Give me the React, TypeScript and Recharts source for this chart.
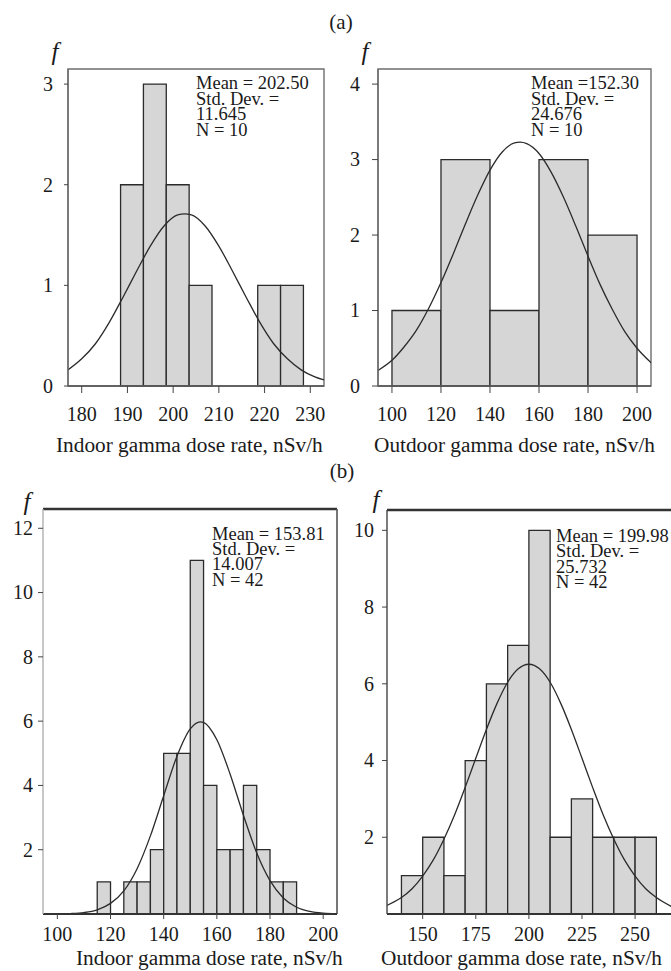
import { ComposedChart, Line, XAxis, YAxis, ReferenceArea, ReferenceLine } from 'recharts';

const FONT = '"Liberation Serif", "Times New Roman", serif';
const BAR_FILL = '#d6d6d6';
const INK = '#2b2b2b';

// (a) indoor, N = 10
const indoorABinStart = [188.5, 193.5, 198.5, 203.5, 218.5, 223.5];
const indoorACounts = [2, 3, 2, 1, 1, 1];
const indoorACurveX = [177, 180, 183, 186, 189, 192, 195, 198, 201, 202.5, 204, 207, 210, 213, 216, 219, 222, 225, 228, 231, 233];
const indoorACurveY = [0.16, 0.27, 0.42, 0.63, 0.88, 1.14, 1.39, 1.59, 1.7, 1.71, 1.7, 1.59, 1.39, 1.14, 0.88, 0.63, 0.42, 0.27, 0.16, 0.09, 0.06];

// (a) outdoor, N = 10
const outdoorABinStart = [100, 120, 140, 160, 180];
const outdoorACounts = [1, 3, 1, 3, 2];
const outdoorACurveX = [94, 100, 105, 110, 115, 120, 125, 130, 135, 140, 145, 150, 152.3, 155, 160, 165, 170, 175, 180, 185, 190, 195, 200, 206];
const outdoorACurveY = [0.2, 0.34, 0.52, 0.74, 1.03, 1.37, 1.75, 2.15, 2.53, 2.86, 3.1, 3.22, 3.23, 3.21, 3.08, 2.83, 2.5, 2.12, 1.72, 1.34, 1.01, 0.72, 0.5, 0.3];

// (b) indoor, N = 42
const indoorBBinStart = [115, 125, 130, 135, 140, 145, 150, 155, 160, 165, 170, 175, 180, 185];
const indoorBCounts = [1, 1, 1, 2, 5, 5, 11, 4, 2, 2, 4, 2, 1, 1];
const indoorBCurveX = [94, 100, 105, 110, 115, 120, 125, 130, 135, 140, 145, 150, 153.8, 155, 160, 165, 170, 175, 180, 185, 190, 195, 200, 205];
const indoorBCurveY = [0, 0.004, 0.014, 0.045, 0.13, 0.33, 0.72, 1.41, 2.43, 3.68, 4.91, 5.76, 5.98, 5.96, 5.42, 4.35, 3.07, 1.9, 1.04, 0.5, 0.21, 0.08, 0.026, 0.008];

// (b) outdoor, N = 42
const outdoorBBinStart = [140, 150, 160, 170, 180, 190, 200, 210, 220, 230, 240, 250];
const outdoorBCounts = [1, 2, 1, 4, 6, 7, 10, 2, 3, 2, 2, 2];
const outdoorBCurveX = [133, 140, 145, 150, 155, 160, 165, 170, 175, 180, 185, 190, 195, 200, 205, 210, 215, 220, 225, 230, 235, 240, 245, 250, 255, 260, 267];
const outdoorBCurveY = [0.22, 0.43, 0.66, 0.99, 1.41, 1.95, 2.58, 3.3, 4.06, 4.81, 5.49, 6.04, 6.39, 6.51, 6.39, 6.04, 5.49, 4.81, 4.06, 3.3, 2.58, 1.95, 1.41, 0.99, 0.66, 0.43, 0.2];

const stats = [
  { x: 196, y: 89, step: 15.6, lines: ['Mean = 202.50', 'Std. Dev. =', '11.645', 'N = 10'] },
  { x: 531, y: 89, step: 15.6, lines: ['Mean =152.30', 'Std. Dev. =', '24.676', 'N = 10'] },
  { x: 212, y: 539.5, step: 15.4, lines: ['Mean = 153.81', 'Std. Dev. =', '14.007', 'N = 42'] },
  { x: 556, y: 542, step: 15.4, lines: ['Mean = 199.98', 'Std. Dev. =', '25.732', 'N = 42'] },
];

const Y_AXIS_W = 40;
const X_AXIS_H = 50;

const XTick = (p: any) => (
  <text x={p.x} y={p.y} dy="0.71em" textAnchor="middle" fontFamily={FONT} fontSize={20} fill="#1a1a1a">
    {p.payload.value}
  </text>
);

const YTick = (p: any) => (
  <text x={p.x} y={p.y} dy="0.34em" textAnchor="end" fontFamily={FONT} fontSize={20} fill="#1a1a1a">
    {p.payload.value}
  </text>
);

const Panel = (props: any) => {
  const { box, plot, xDomain, yDomain, xTicks, yTicks, binStart, counts, binWidth, curveX, curveY, xTick, yTick, frame } = props;
  const margin = {
    left: plot.left - box.left - Y_AXIS_W,
    top: plot.top - box.top,
    right: box.left + box.width - plot.right,
    bottom: box.top + box.height - plot.bottom - X_AXIS_H,
  };
  const curve = curveX.map((x: number, i: number) => ({ x, y: curveY[i] }));

  return (
    <div style={{ position: 'absolute', left: box.left, top: box.top }}>
      <ComposedChart width={box.width} height={box.height} data={curve} margin={margin}>
        <XAxis
          type="number"
          dataKey="x"
          domain={xDomain}
          ticks={xTicks}
          interval={0}
          allowDataOverflow
          height={X_AXIS_H}
          tickSize={xTick.size}
          tickMargin={xTick.margin}
          tick={<XTick />}
          axisLine={{ stroke: frame.bottom, strokeWidth: frame.bottomWidth }}
          tickLine={{ stroke: '#444' }}
        />
        <YAxis
          type="number"
          domain={yDomain}
          ticks={yTicks}
          interval={0}
          allowDataOverflow
          width={Y_AXIS_W}
          tickSize={yTick.size}
          tickMargin={yTick.margin}
          tick={<YTick />}
          axisLine={{ stroke: frame.left, strokeWidth: 1.4 }}
          tickLine={{ stroke: '#444' }}
        />
        {binStart.map((b: number, i: number) => (
          <ReferenceArea
            key={b}
            x1={b}
            x2={b + binWidth}
            y1={0}
            y2={counts[i]}
            fill={BAR_FILL}
            fillOpacity={1}
            stroke={INK}
            strokeWidth={1.3}
          />
        ))}
        {frame.box && (
          <ReferenceArea
            x1={xDomain[0]}
            x2={xDomain[1]}
            y1={yDomain[0]}
            y2={yDomain[1]}
            fill="none"
            stroke="#6e6e6e"
            strokeWidth={1.4}
          />
        )}
        {frame.top && <ReferenceLine y={yDomain[1]} stroke="#333" strokeWidth={2.4} />}
        {frame.right && <ReferenceLine x={xDomain[1]} stroke="#555" strokeWidth={1.6} />}
        <Line
          type="monotone"
          dataKey="y"
          stroke={INK}
          strokeWidth={1.3}
          dot={false}
          isAnimationActive={false}
        />
      </ComposedChart>
    </div>
  );
};

export default function App() {
  return (
    <div style={{ position: 'absolute', left: 0, top: 0, width: 671, height: 971, background: '#fff', fontFamily: FONT }}>
      <Panel
        box={{ left: 0, top: 40, width: 340, height: 430 }}
        plot={{ left: 68, top: 69, right: 324, bottom: 386 }}
        xDomain={[177, 233]}
        yDomain={[0, 3.15]}
        xTicks={[180, 190, 200, 210, 220, 230]}
        yTicks={[0, 1, 2, 3]}
        binStart={indoorABinStart}
        counts={indoorACounts}
        binWidth={5}
        curveX={indoorACurveX}
        curveY={indoorACurveY}
        xTick={{ size: 7, margin: 14 }}
        yTick={{ size: 4, margin: 11 }}
        frame={{ box: true, left: '#6e6e6e', bottom: '#555', bottomWidth: 1.4 }}
      />
      <Panel
        box={{ left: 330, top: 40, width: 341, height: 430 }}
        plot={{ left: 378, top: 69, right: 651, bottom: 386 }}
        xDomain={[94.3, 205.7]}
        yDomain={[0, 4.2]}
        xTicks={[100, 120, 140, 160, 180, 200]}
        yTicks={[0, 1, 2, 3, 4]}
        binStart={outdoorABinStart}
        counts={outdoorACounts}
        binWidth={20}
        curveX={outdoorACurveX}
        curveY={outdoorACurveY}
        xTick={{ size: 7, margin: 14 }}
        yTick={{ size: 6, margin: 12 }}
        frame={{ box: true, left: '#6e6e6e', bottom: '#555', bottomWidth: 1.4 }}
      />
      <Panel
        box={{ left: 0, top: 480, width: 340, height: 491 }}
        plot={{ left: 43, top: 509, right: 337, bottom: 914 }}
        xDomain={[94.6, 205.2]}
        yDomain={[0, 12.6]}
        xTicks={[100, 120, 140, 160, 180, 200]}
        yTicks={[2, 4, 6, 8, 10, 12]}
        binStart={indoorBBinStart}
        counts={indoorBCounts}
        binWidth={5}
        curveX={indoorBCurveX}
        curveY={indoorBCurveY}
        xTick={{ size: 5, margin: 8 }}
        yTick={{ size: 5, margin: 5 }}
        frame={{ top: true, right: true, left: '#b0b0b0', bottom: '#333', bottomWidth: 2 }}
      />
      <Panel
        box={{ left: 340, top: 480, width: 331, height: 491 }}
        plot={{ left: 387, top: 510, right: 671, bottom: 914 }}
        xDomain={[133.2, 266.9]}
        yDomain={[0, 10.53]}
        xTicks={[150, 175, 200, 225, 250]}
        yTicks={[2, 4, 6, 8, 10]}
        binStart={outdoorBBinStart}
        counts={outdoorBCounts}
        binWidth={10}
        curveX={outdoorBCurveX}
        curveY={outdoorBCurveY}
        xTick={{ size: 5, margin: 8 }}
        yTick={{ size: 5, margin: 8 }}
        frame={{ top: true, left: '#444', bottom: '#333', bottomWidth: 2 }}
      />
      <svg width={671} height={971} style={{ position: 'absolute', left: 0, top: 0, pointerEvents: 'none' }}>
        <g fontFamily={FONT} fill="#1a1a1a">
          <text x={341} y={29} fontSize={21} textAnchor="middle">(a)</text>
          <text x={342} y={478} fontSize={21} textAnchor="middle">(b)</text>
          <text x={55} y={60} fontSize={25} fontStyle="italic" textAnchor="middle">f</text>
          <text x={365} y={60} fontSize={25} fontStyle="italic" textAnchor="middle">f</text>
          <text x={27} y={510} fontSize={25} fontStyle="italic" textAnchor="middle">f</text>
          <text x={376} y={508} fontSize={25} fontStyle="italic" textAnchor="middle">f</text>
          {stats.map((s) => (
            <text key={s.lines[0]} x={s.x} y={s.y} fontSize={18.5}>
              {s.lines.map((l, i) => (
                <tspan key={i} x={s.x} y={s.y + i * s.step}>{l}</tspan>
              ))}
            </text>
          ))}
          <text x={56} y={452} fontSize={21.3}>Indoor gamma dose rate, nSv/h</text>
          <text x={374} y={452} fontSize={21.3}>Outdoor gamma dose rate, nSv/h</text>
          <text x={76} y={965} fontSize={21.3}>Indoor gamma dose rate, nSv/h</text>
          <text x={381} y={965} fontSize={21.3}>Outdoor gamma dose rate, nSv/h</text>
        </g>
      </svg>
    </div>
  );
}
